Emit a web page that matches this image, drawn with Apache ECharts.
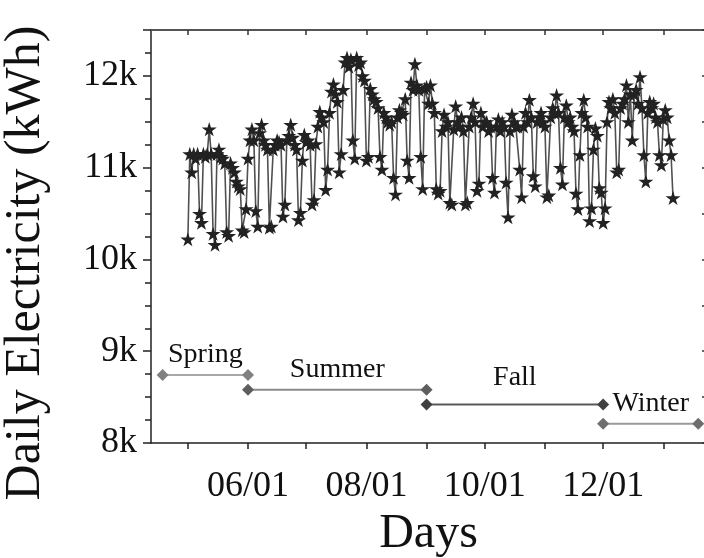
<!DOCTYPE html>
<html>
<head>
<meta charset="utf-8">
<script src="https://cdn.jsdelivr.net/npm/echarts@6/dist/echarts.min.js"></script>
<style>html,body{margin:0;padding:0;background:#fff}#c{width:704px;height:558px}</style>
</head>
<body>
<div id="c"></div>
<script>
// ---- data ----
const startDate = [2016, 4, 1]; // first day of the daily series (May 1)
const dailyKWh = [
10220,11150,10950,11150,11100,11150,10500,10400,11150,11120,11150,11420,11150,10280,10160,11150,11200,11120,11100,11050,
10300,10260,11050,11000,10950,10850,10800,10770,10320,10300,10550,11100,11300,11420,11300,10530,10360,11380,11470,11300,
11250,11200,10350,10360,11200,11250,11300,11280,11250,10470,10600,11300,11350,11470,11330,11250,11200,10430,10510,11080,
11360,11280,11300,11250,10600,10650,11260,11450,11610,11550,11500,10760,10980,11600,11830,11910,11800,11720,10950,11150,
11850,12150,12200,12100,12180,11300,11100,12200,12120,12150,12000,11950,11080,11120,11860,11800,11750,11720,11650,11120,
10980,11600,11550,11500,11470,11500,10890,10710,11550,11630,11600,11580,11750,11080,10890,11930,11850,12130,11900,11850,
11120,10770,11860,11880,11700,11900,11700,11600,10770,10720,10750,11400,11580,11450,11500,10620,10600,11420,11670,11500,
11450,11550,11400,10600,10620,11450,11550,11700,11500,10750,10830,11600,11450,11500,11500,11400,11450,10890,10730,11450,
11530,11400,11500,11450,10840,10460,11400,11580,11500,11450,11450,10980,10680,11450,11600,11500,11740,11550,10910,10800,
11500,11550,11600,11500,11450,10680,10700,11550,11650,11600,11790,11600,11000,10820,11550,11680,11500,11550,11450,11400,
10720,10550,11140,11600,11740,11550,11450,10420,10560,11200,11430,11350,10780,10730,10400,10560,11500,11720,11650,11750,
11600,10950,10980,11650,11700,11750,11900,11500,11800,11300,11800,11850,11700,11990,11650,11140,10850,11600,11720,11650,
11700,11550,11500,11140,11030,11530,11630,11550,11300,11140,10670
];
const seasonNames = ['Spring', 'Summer', 'Fall', 'Winter'];
const seasonStart = ['2016-04-18', '2016-06-01', '2016-09-01', '2016-12-01'];
const seasonEnd   = ['2016-06-01', '2016-09-01', '2016-12-01', '2017-01-19'];
const seasonLevel = [8740, 8580, 8420, 8210];
const monthTickDates = ['2016-05-01','2016-06-01','2016-07-01','2016-08-01','2016-09-01','2016-10-01','2016-11-01','2016-12-01','2017-01-01'];
const monthLabelDates = ['2016-06-01','2016-08-01','2016-10-01','2016-12-01'];
const xRange = ['2016-04-12', '2017-01-23'];
const yTicks = {min: 8000, max: 12500, major: 1000, right: 500};

// ---- styles ----
const FONT = 'Liberation Serif';
const seasonColors = ['#808080', '#5e5e5e', '#404040', '#6e6e6e'];
const seasonLineColors = ['#a8a8a8', '#8a8a8a', '#5a5a5a', '#9a9a9a'];
const seasonLabelGap = [6, 6, 13, 6];

function ts(s) { const p = s.split('-').map(Number); return new Date(p[0], p[1]-1, p[2]).getTime(); }
function pad(n) { return (n < 10 ? '0' : '') + n; }

const seriesData = dailyKWh.map((v, i) => [new Date(startDate[0], startDate[1], startDate[2] + i).getTime(), v]);
const starPath = 'path://M50,0 L61,35 L98,35 L68,57 L79,91 L50,70 L21,91 L32,57 L2,35 L39,35 Z';

const series = [{
  type: 'line', data: seriesData, xAxisIndex: 0, yAxisIndex: 0,
  symbol: starPath, symbolSize: 15, symbolKeepAspect: true, showAllSymbol: true,
  itemStyle: {color: '#222'}, lineStyle: {color: '#505050', width: 1.6}, z: 3
}];
seasonNames.forEach((n, i) => {
  series.push({
    type: 'line', name: n, xAxisIndex: 0, yAxisIndex: 0,
    data: [[ts(seasonStart[i]), seasonLevel[i]], [ts(seasonEnd[i]), seasonLevel[i]]],
    symbol: 'diamond', symbolSize: 12,
    itemStyle: {color: seasonColors[i]}, lineStyle: {color: seasonLineColors[i], width: 2}, z: 2
  });
  series.push({
    type: 'scatter', xAxisIndex: 0, yAxisIndex: 0, symbolSize: 0, silent: true,
    itemStyle: {opacity: 1},
    data: [[(ts(seasonStart[i]) + ts(seasonEnd[i])) / 2, seasonLevel[i]]],
    label: {show: true, position: 'top', distance: seasonLabelGap[i], formatter: n,
            fontFamily: FONT, fontSize: 28, color: '#111', opacity: 1}
  });
});

const fmtDate = v => { const d = new Date(v); return pad(d.getMonth() + 1) + '/' + pad(d.getDate()); };

const option = {
  animation: false,
  grid: {left: 151, top: 30, right: -2, bottom: 115, containLabel: false, outerBoundsMode: 'none'},
  xAxis: [{
    type: 'value', position: 'bottom', min: ts(xRange[0]), max: ts(xRange[1]),
    axisLine: {lineStyle: {color: '#222', width: 1.5}},
    axisTick: {customValues: monthTickDates.map(ts), inside: false, length: 6, lineStyle: {color: '#222', width: 1.5}},
    axisLabel: {customValues: monthLabelDates.map(ts), formatter: fmtDate, fontFamily: FONT, fontSize: 36, color: '#111', margin: 26, hideOverlap: false},
    splitLine: {show: false},
    name: 'Days', nameLocation: 'middle', nameGap: 63,
    nameTextStyle: {fontFamily: FONT, fontSize: 48, color: '#111'}
  }, {
    type: 'value', position: 'top', min: ts(xRange[0]), max: ts(xRange[1]),
    axisLine: {lineStyle: {color: '#555', width: 2}},
    axisTick: {customValues: monthTickDates.map(ts), inside: true, length: 5, lineStyle: {color: '#333', width: 1.5}},
    axisLabel: {show: false}, splitLine: {show: false}
  }],
  yAxis: [{
    type: 'value', position: 'left', min: yTicks.min, max: yTicks.max, interval: yTicks.major,
    axisLine: {show: true, lineStyle: {color: '#222', width: 1.5}},
    axisTick: {show: true, inside: false, length: 8, lineStyle: {color: '#222', width: 1.5}},
    minorTick: {show: true, splitNumber: 4, length: 6, lineStyle: {color: '#222', width: 1.5}},
    axisLabel: {formatter: v => (v % 1000 === 0 ? (v / 1000) + 'k' : ''), fontFamily: FONT, fontSize: 36, color: '#111', margin: 14},
    splitLine: {show: false},
    name: 'Daily Electricity (kWh)', nameLocation: 'middle', nameGap: 100,
    nameTextStyle: {fontFamily: FONT, fontSize: 50, color: '#111', padding: [0, 53, 0, 0]}
  }, {
    type: 'value', position: 'right', min: yTicks.min, max: yTicks.max, interval: yTicks.right,
    axisLine: {show: true, lineStyle: {color: '#222', width: 1.5}},
    axisTick: {show: true, inside: true, length: 4, lineStyle: {color: '#333', width: 1.5}},
    axisLabel: {show: false}, splitLine: {show: false}
  }],
  series: series
};
echarts.init(document.getElementById('c'), null, {renderer: 'canvas'}).setOption(option);
</script>
</body>
</html>
